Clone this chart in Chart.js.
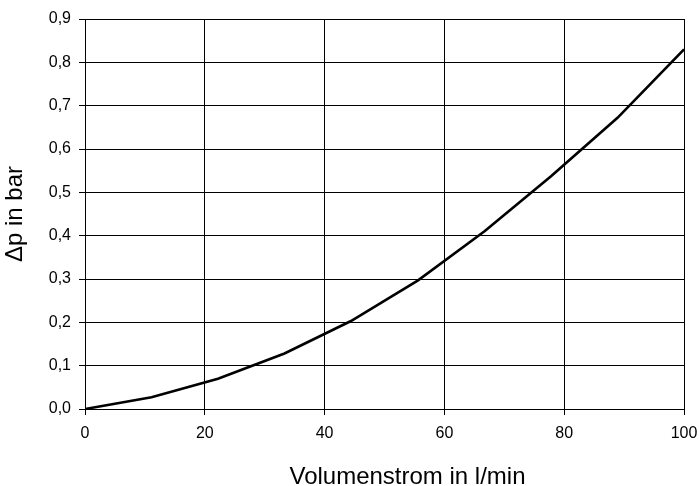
<!DOCTYPE html>
<html>
<head>
<meta charset="utf-8">
<script src="https://cdn.jsdelivr.net/npm/chart.js@4/dist/chart.umd.min.js"></script>
<style>
  html, body { margin: 0; padding: 0; background: #fff; }
  #wrap { width: 699px; height: 486px; }
</style>
</head>
<body>
<div id="wrap"><canvas id="c" width="699" height="486"></canvas></div>
<script>
// Data
const flowRates = [0, 11.1, 22.2, 33.3, 44.4, 55.6, 66.7, 77.8, 88.9, 100];   // Volumenstrom in l/min
const pressureDrop = [0, 0.027, 0.07, 0.128, 0.203, 0.297, 0.41, 0.537, 0.672, 0.83]; // Δp in bar
const xTicks = [0, 20, 40, 60, 80, 100];
const yTicks = [0, 0.1, 0.2, 0.3, 0.4, 0.5, 0.6, 0.7, 0.8, 0.9];
const xTitle = 'Volumenstrom in l/min';
const yTitle = 'Δp in bar';

const points = flowRates.map((x, i) => ({ x: x, y: pressureDrop[i] }));

const FONT = '"Liberation Sans", Arial, Helvetica, sans-serif';

new Chart(document.getElementById('c'), {
  type: 'scatter',
  data: {
    datasets: [{
      data: points,
      showLine: true,
      borderColor: '#000',
      borderWidth: 2.6,
      pointRadius: 0,
      tension: 0,
      fill: false
    }]
  },
  options: {
    responsive: false,
    animation: false,
    devicePixelRatio: 1,
    layout: { padding: { top: 19, right: 15, bottom: 0, left: 0 } },
    plugins: { legend: { display: false }, tooltip: { enabled: false } },
    scales: {
      x: {
        type: 'linear',
        min: xTicks[0],
        max: xTicks[xTicks.length - 1],
        afterBuildTicks: (s) => { s.ticks = xTicks.map(v => ({ value: v })); },
        ticks: {
          color: '#000',
          padding: 9,
          maxRotation: 0,
          font: { family: FONT, size: 16 },
          callback: (v) => String(v)
        },
        grid: { color: '#000', lineWidth: 1, tickLength: 6, tickColor: '#000' },
        border: { color: '#000', width: 1 },
        title: {
          display: true,
          text: xTitle,
          color: '#000',
          font: { family: FONT, size: 24, lineHeight: 0.7 },
          padding: 0
        },
        afterFit: (s) => { s.height = 77; s.paddingRight = 15; s.paddingLeft = 0; },
        afterUpdate: (s) => {
          if (!s._shiftedTitle) {
            const orig = s.drawTitle;
            s.drawTitle = function () {
              this.ctx.save();
              this.ctx.translate(23, 0);
              orig.call(this);
              this.ctx.restore();
            };
            s._shiftedTitle = true;
          }
        }
      },
      y: {
        type: 'linear',
        min: yTicks[0],
        max: yTicks[yTicks.length - 1],
        afterBuildTicks: (s) => { s.ticks = yTicks.map(v => ({ value: v })); },
        ticks: {
          color: '#000',
          padding: 8,
          font: { family: FONT, size: 16 },
          callback: (v) => Number(v).toFixed(1).replace('.', ',')
        },
        grid: { color: '#000', lineWidth: 1, tickLength: 6, tickColor: '#000' },
        border: { color: '#000', width: 1 },
        title: {
          display: true,
          text: yTitle,
          color: '#000',
          font: { family: FONT, size: 24, lineHeight: 1 },
          padding: { top: 3, bottom: 0 }
        },
        afterFit: (s) => { s.width = 85; }
      }
    }
  }
});
</script>
</body>
</html>
